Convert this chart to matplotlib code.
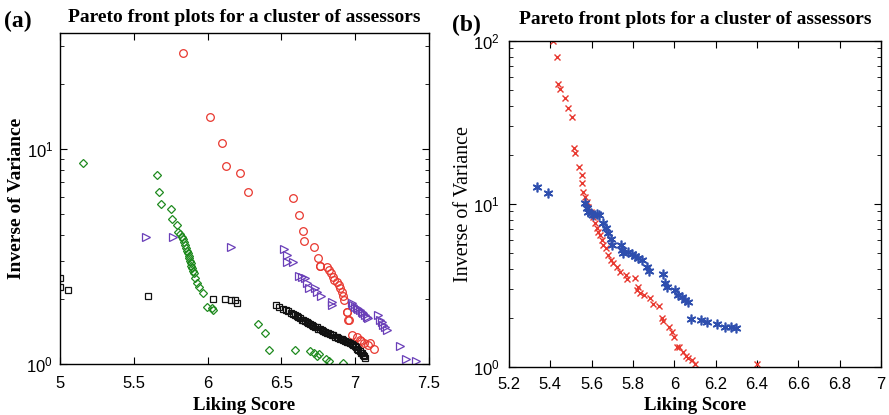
import matplotlib.pyplot as plt
from matplotlib.ticker import LogLocator, FixedLocator

# ---- panel (a): five assessor groups ----
red_x = [5.833, 6.018, 6.100, 6.123, 6.222, 6.272, 6.577, 6.617, 6.646, 6.655, 6.721, 6.748,
         6.759, 6.762, 6.811, 6.825, 6.834, 6.847, 6.859, 6.874, 6.888, 6.897, 6.908, 6.919,
         6.924, 6.942, 6.947, 6.953, 6.960, 6.980, 7.014, 7.033, 7.037, 7.060, 7.089, 7.100, 7.127]
red_y = [28.0, 14.1, 10.7, 8.36, 7.71, 6.29, 5.92, 4.93, 4.15, 3.72, 3.51, 3.12,
         2.85, 2.86, 2.84, 2.74, 2.64, 2.55, 2.46, 2.41, 2.33, 2.25, 2.17, 2.06,
         1.99, 1.74, 1.75, 1.61, 1.60, 1.36, 1.34, 1.29, 1.28, 1.25, 1.23, 1.25, 1.17]

green_x = [5.158, 5.659, 5.673, 5.684, 5.750, 5.761, 5.795, 5.801, 5.812, 5.824, 5.832, 5.840,
           5.847, 5.854, 5.860, 5.865, 5.871, 5.876, 5.880, 5.885, 5.890, 5.896, 5.902, 5.908,
           5.917, 5.930, 5.944, 5.971, 5.998, 6.028, 6.039, 6.339, 6.391, 6.416, 6.592, 6.694,
           6.723, 6.743, 6.753, 6.802, 6.825, 6.915]
green_y = [8.63, 7.57, 6.29, 5.55, 5.24, 4.71, 4.43, 4.12, 4.02, 3.91, 3.80, 3.70,
           3.57, 3.45, 3.36, 3.27, 3.18, 3.10, 3.02, 2.94, 2.86, 2.79, 2.71, 2.64,
           2.50, 2.37, 2.29, 2.13, 1.85, 1.82, 1.78, 1.53, 1.39, 1.16, 1.16, 1.15,
           1.13, 1.09, 1.11, 1.06, 1.03, 1.01]

black_x = [5.000, 5.000, 5.056, 5.598, 6.034, 6.120, 6.157, 6.186, 6.197, 6.463, 6.486, 6.509,
           6.528, 6.547, 6.565, 6.581, 6.593, 6.604, 6.615, 6.626, 6.637, 6.648, 6.660, 6.671,
           6.683, 6.694, 6.705, 6.716, 6.728, 6.739, 6.750, 6.762, 6.773, 6.784, 6.796, 6.807,
           6.818, 6.829, 6.840, 6.852, 6.863, 6.875, 6.886, 6.897, 6.908, 6.919, 6.930, 6.942,
           6.953, 6.965, 6.976, 6.987, 6.996, 7.005, 7.013, 7.021, 7.029, 7.037, 7.044, 7.051,
           7.058, 7.066]
black_y = [2.50, 2.29, 2.22, 2.07, 2.00, 2.00, 1.98, 1.98, 1.92, 1.88, 1.84, 1.80,
           1.78, 1.76, 1.73, 1.71, 1.69, 1.67, 1.65, 1.63, 1.61, 1.60, 1.58, 1.57,
           1.55, 1.53, 1.52, 1.50, 1.49, 1.48, 1.46, 1.45, 1.44, 1.43, 1.41, 1.40,
           1.39, 1.38, 1.37, 1.36, 1.34, 1.33, 1.32, 1.31, 1.30, 1.29, 1.28, 1.27,
           1.26, 1.25, 1.24, 1.23, 1.21, 1.20, 1.18, 1.16, 1.15, 1.13, 1.12, 1.10,
           1.09, 1.07]

purple_x = [5.583, 5.768, 6.157, 6.520, 6.536, 6.540, 6.581, 6.622, 6.641, 6.660, 6.676, 6.690,
            6.728, 6.739, 6.766, 6.841, 6.845, 6.976, 6.988, 6.999, 7.010, 7.021, 7.033, 7.044,
            7.055, 7.066, 7.078, 7.089, 7.157, 7.168, 7.180, 7.191, 7.202, 7.213, 7.303, 7.344,
            7.412]
purple_y = [3.88, 3.88, 3.49, 3.41, 3.21, 2.99, 2.99, 2.57, 2.53, 2.50, 2.37, 2.25,
            2.25, 2.17, 2.06, 1.95, 1.88, 1.92, 1.88, 1.85, 1.83, 1.80, 1.78, 1.75,
            1.72, 1.69, 1.66, 1.63, 1.69, 1.60, 1.56, 1.52, 1.48, 1.44, 1.21, 1.05,
            1.03]

# ---- panel (b): two fronts ----
xs_x = [5.414, 5.434, 5.439, 5.447, 5.471, 5.484, 5.503, 5.514, 5.519, 5.539, 5.555, 5.555,
        5.559, 5.568, 5.576, 5.584, 5.595, 5.605, 5.616, 5.624, 5.632, 5.640, 5.648, 5.656,
        5.669, 5.680, 5.692, 5.705, 5.721, 5.737, 5.766, 5.772, 5.810, 5.818, 5.823, 5.834,
        5.853, 5.882, 5.898, 5.927, 5.939, 5.944, 5.976, 5.988, 5.998, 6.011, 6.024, 6.043,
        6.056, 6.068, 6.084, 6.100, 6.398]
xs_y = [100.0, 80.1, 54.2, 50.6, 44.5, 38.6, 34.3, 22.0, 20.5, 16.9, 15.1, 13.4,
        11.9, 11.1, 10.3, 9.62, 8.97, 8.36, 7.62, 7.10, 6.75, 6.45, 6.01, 5.60,
        5.35, 4.86, 4.53, 4.33, 4.09, 3.84, 3.67, 3.47, 3.50, 2.97, 3.11, 2.86,
        2.77, 2.64, 2.44, 2.37, 1.99, 1.92, 1.77, 1.65, 1.52, 1.33, 1.32, 1.24,
        1.17, 1.13, 1.10, 1.05, 1.04]

star_x = [5.337, 5.390, 5.568, 5.576, 5.584, 5.595, 5.608, 5.624, 5.637, 5.656, 5.669, 5.680,
          5.692, 5.697, 5.740, 5.745, 5.750, 5.777, 5.794, 5.810, 5.826, 5.842, 5.866, 5.879,
          5.947, 5.955, 5.963, 6.003, 6.019, 6.036, 6.051, 6.068, 6.080, 6.127, 6.159, 6.205,
          6.245, 6.273, 6.298]
star_y = [12.8, 11.6, 10.1, 9.41, 8.97, 8.77, 8.56, 8.69, 8.56, 7.68, 7.10, 6.61,
          6.07, 5.60, 5.60, 5.22, 4.99, 5.10, 4.93, 4.80, 4.65, 4.53, 4.09, 3.90,
          3.72, 3.26, 3.11, 2.97, 2.77, 2.68, 2.58, 2.52, 1.97, 1.94, 1.90, 1.84,
          1.77, 1.75, 1.73]

plt.rcParams['font.family'] = 'Liberation Sans'
serif = 'Liberation Serif'
title = 'Pareto front plots for a cluster of assessors'

fig = plt.figure(figsize=(8.89, 4.15), dpi=100)
ax1 = fig.add_axes([0.0675, 0.1229, 0.4151, 0.7976])
ax2 = fig.add_axes([0.5726, 0.1157, 0.4184, 0.7855])

mk = dict(linestyle='none', markerfacecolor='none', markersize=5.5, markeredgewidth=0.9)
ax1.plot(red_x, red_y, 'o', color='#e8382f', **mk)
ax1.plot(green_x, green_y, 'D', color='#1f8a1f', **dict(mk, markersize=4.5))
ax1.plot(black_x, black_y, 's', color='#111111', **dict(mk, markersize=4.5))
ax1.plot(purple_x, purple_y, '>', color='#6a3fb8', **mk)

ax2.plot(xs_x, xs_y, 'x', color='#e8382f', linestyle='none', markersize=4.5, markeredgewidth=1.0)
ax2.plot(star_x, star_y, marker=(6, 2, 0), color='#2f4fae', linestyle='none',
         markersize=7, markeredgewidth=1.2)

for ax in (ax1, ax2):
    ax.set_yscale('log')
    ax.tick_params(which='both', direction='in', top=True, right=True, labelsize=12)
    ax.tick_params(which='major', length=5, width=0.8)
    ax.tick_params(which='minor', length=3, width=0.6)
    ax.yaxis.set_minor_locator(LogLocator(base=10, subs=range(2, 10)))
    for s in ax.spines.values():
        s.set_linewidth(1.0)
    ax.set_xlabel('Liking Score', fontfamily=serif, fontweight='bold', fontsize=13.5, labelpad=4)

ax1.set_xlim(5, 7.5)
ax1.set_ylim(1, 34.6)
ax1.xaxis.set_major_locator(FixedLocator([5, 5.5, 6, 6.5, 7, 7.5]))
ax1.set_xticklabels(['5', '5.5', '6', '6.5', '7', '7.5'])
ax1.tick_params(axis='x', pad=9)
ax1.tick_params(axis='y', pad=5)
ax1.set_ylabel('Inverse of Variance', fontfamily=serif, fontweight='bold', fontsize=14,
               labelpad=1)
ax1.set_title(title, fontfamily=serif, fontweight='bold', fontsize=14, pad=8)

ax2.set_xlim(5.2, 7)
ax2.set_ylim(1, 100)
ax2.xaxis.set_major_locator(FixedLocator([5.2, 5.4, 5.6, 5.8, 6, 6.2, 6.4, 6.6, 6.8, 7]))
ax2.set_xticklabels(['5.2', '5.4', '5.6', '5.8', '6', '6.2', '6.4', '6.6', '6.8', '7'])
ax2.tick_params(axis='x', pad=7)
ax2.tick_params(axis='y', pad=7)
ax2.set_ylabel('Inverse of Variance', fontfamily=serif, fontsize=14.5, labelpad=0)
ax2.set_title(title, fontfamily=serif, fontweight='bold', fontsize=14, pad=12)

fig.text(0.005, 0.935, '(a)', fontfamily=serif, fontweight='bold', fontsize=17)
fig.text(0.508, 0.925, '(b)', fontfamily=serif, fontweight='bold', fontsize=17)

fig.savefig('out.png', dpi=100)
